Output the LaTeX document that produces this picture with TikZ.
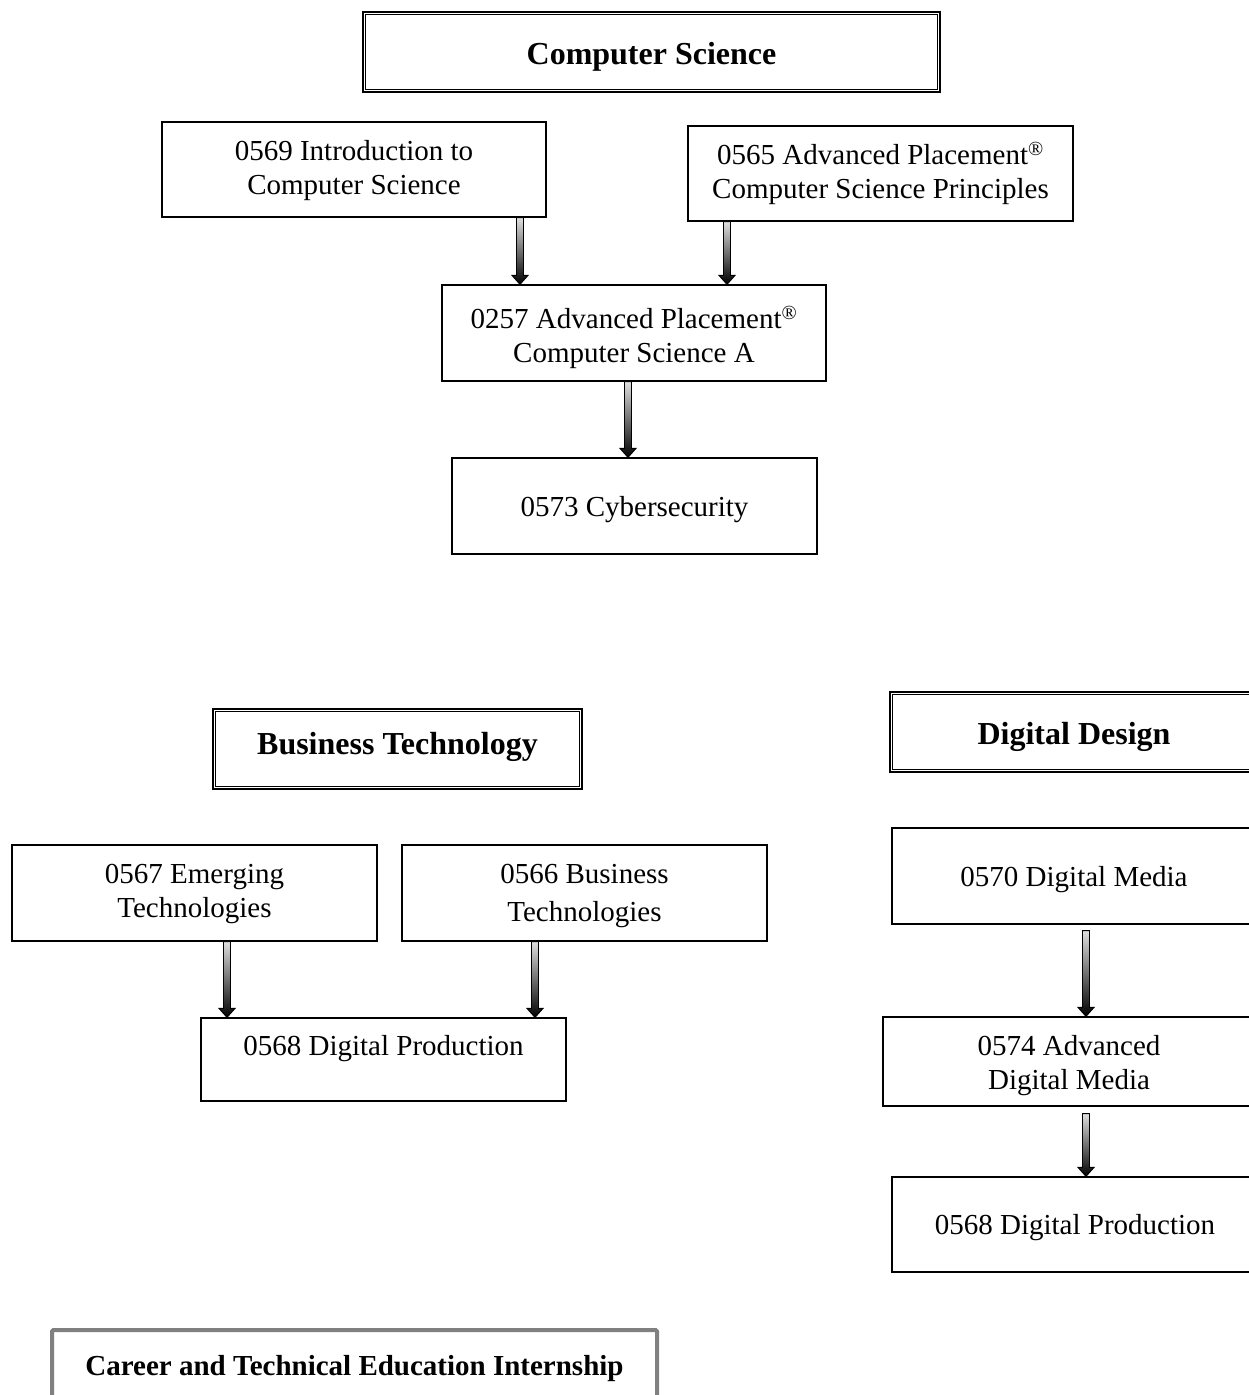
\documentclass[tikz,border=0pt]{standalone}
\usepackage{fontspec}
\setmainfont{Liberation Serif}
\usetikzlibrary{calc}
\tikzset{
  th/.style={execute at begin node={\rule{0pt}{#1}}},
  td/.style={execute at end node={\rule[-#1]{0pt}{#1}}},
  course/.style={draw=black, line width=1.2pt, rectangle, align=center, inner sep=0pt,
    font=\fontsize{29}{34}\selectfont, th=27.5pt, td=7pt},
  heading/.style={draw=black, line width=2.2pt, rectangle, align=center, inner sep=0pt,
    font=\fontsize{32}{38}\selectfont\bfseries, th=32pt, td=8pt},
  ctebox/.style={draw=gray, line width=4pt, rounded corners=1.5pt, rectangle, align=center, inner sep=0pt,
    font=\fontsize{29}{34}\selectfont\bfseries},
  arrowbody/.style={draw=black, line width=0.9pt, top color=gray!25, bottom color=black, line join=miter},
  innerline/.style={draw=black, line width=1pt}
}
\newcommand\innerframe[1]{\draw[innerline] ([shift={(4,4)}]#1.north west) rectangle ([shift={(-4,-4)}]#1.south east);}
\newcommand\blockarr[4][0]{%
  \path[arrowbody] let \p1=(#3.south), \p2=(#4.north) in
    ({#2pt-3.5pt},{\y1-#1pt}) -- ({#2pt+3.5pt},{\y1-#1pt}) -- ({#2pt+3.5pt},{\y2+9pt}) -- ({#2pt+8pt},{\y2+9pt})
    -- ({#2pt},\y2) -- ({#2pt-8pt},{\y2+9pt}) -- ({#2pt-3.5pt},{\y2+9pt}) -- cycle;}
\newcommand\regm{\textsuperscript{\fontsize{20}{20}\selectfont ®}}
\newcommand\lift[1]{\rule{0pt}{#1}}
\begin{document}
\begin{tikzpicture}[x=1pt,y=-1pt]
\useasboundingbox (0,0) rectangle (1249,1395);
\fill[white] (0,0) rectangle (1249,1395);

% Computer Science
\node[heading, minimum width=577, minimum height=80] (cs) at (651.5,52) {Computer Science};
\innerframe{cs}
\node[course, minimum width=384, minimum height=95] (c0569) at (354,169.5) {\lift{23pt}0569 Introduction to\\Computer Science};
\node[course, minimum width=385, minimum height=95] (c0565) at (880.5,173.5) {0565 Advanced Placement\regm\\Computer Science Principles};
\node[course, minimum width=384, minimum height=96] (c0257) at (634,333) {\lift{32pt}0257 Advanced Placement\regm\\Computer Science A};
\node[course, minimum width=365, minimum height=96] (c0573) at (634.5,506) {0573 Cybersecurity};
\blockarr{520}{c0569}{c0257}
\blockarr{727}{c0565}{c0257}
\blockarr{628}{c0257}{c0573}

% Business Technology
\node[heading, minimum width=369, minimum height=80, td=22pt] (bt) at (397.5,749) {Business Technology};
\innerframe{bt}
\node[course, minimum width=365, minimum height=96] (c0567) at (194.5,893) {\lift{22pt}0567 Emerging\\Technologies};
\node[course, minimum width=365, minimum height=96, font=\fontsize{29}{38}\selectfont] (c0566) at (584.5,893) {\lift{26pt}0566 Business\\Technologies};
\node[course, minimum width=365, minimum height=83] (c0568a) at (383.5,1059.5) {0568 Digital Production\\[-12pt]~};
\blockarr{227}{c0567}{c0568a}
\blockarr{535}{c0566}{c0568a}

% Digital Design
\node[heading, minimum width=368, minimum height=80] (dd) at (1074,732) {Digital Design};
\innerframe{dd}
\node[course, minimum width=364, minimum height=96] (c0570) at (1074,876) {0570 Digital Media};
\node[course, minimum width=372, minimum height=89] (c0574) at (1069,1061.5) {\lift{28pt}0574 Advanced\\Digital Media};
\node[course, minimum width=366, minimum height=95] (c0568b) at (1075,1224.5) {0568 Digital Production};
\blockarr[6]{1086}{c0570}{c0574}
\blockarr[7]{1086}{c0574}{c0568b}

% CTE Internship
\node[ctebox, minimum width=605, minimum height=100] (cte) at (354.5,1380) {Career and Technical Education Internship\\[-4pt]~};
\end{tikzpicture}
\end{document}
